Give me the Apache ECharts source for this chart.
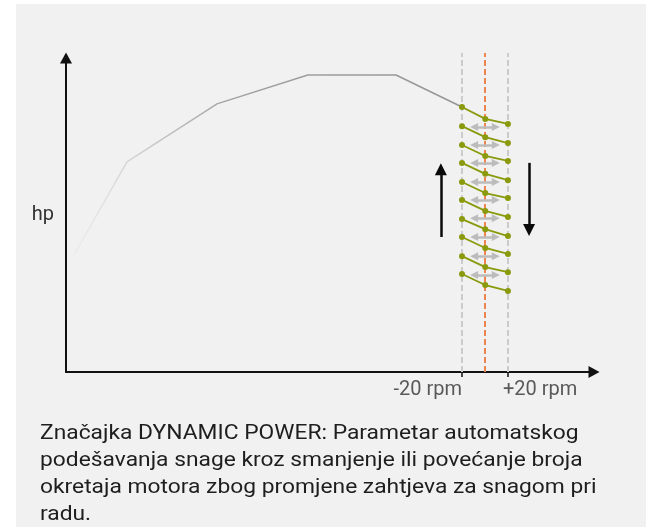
<!DOCTYPE html>
<html>
<head>
<meta charset="utf-8">
<script src="https://cdn.jsdelivr.net/npm/echarts@6/dist/echarts.min.js"></script>
<style>
  html, body { margin: 0; padding: 0; background: #ffffff; }
  #chart { width: 646px; height: 529px; }
</style>
</head>
<body>
<div id="chart"></div>
<script>
// ---- data (schematic units, x: 0..100, y: 0..100) ----
const curveX = [1.5, 11.55, 28.6, 45.8, 62.5, 75.0];
const curveY = [37.3, 66.9, 85.4, 94.6, 94.6, 84.4];

// band positions: -20 rpm, set point, +20 rpm
const bandX = [75.0, 79.4, 83.7];
const bandLabels = ['-20 rpm', '+20 rpm'];
const dashTop = 101.6;

// zig-zag segments (left, middle, right y values)
const zigLeftY  = [84.4, 78.3, 72.3, 66.6, 60.5, 54.8, 48.7, 43.0, 36.9, 31.2];
const zigMidY   = [80.6, 74.8, 68.8, 63.1, 57.0, 51.3, 45.5, 39.5, 33.4, 27.7];
const zigRightY = [79.0, 72.9, 67.2, 61.1, 55.4, 49.4, 43.3, 37.6, 31.8, 25.8];

// grey double arrows
const shiftArrowX = [77.3, 81.4];
const shiftArrowY = [78.0, 72.3, 66.6, 60.5, 54.8, 49.0, 43.0, 36.9, 30.9];

// black trend arrows
const upArrowX = 71.0;
const upArrowY = [43.0, 64.6];
const downArrowX = 87.7;
const downArrowY = [66.6, 45.2];

const yName = 'hp';
const caption = 'Značajka DYNAMIC POWER: Parametar automatskog\npodešavanja snage kroz smanjenje ili povećanje broja\nokretaja motora zbog promjene zahtjeva za snagom pri\nradu.';

// ---- chart ----
const GREEN = '#8a9a0c';
const FONT = 'Roboto';

const chart = echarts.init(document.getElementById('chart'), null, { renderer: 'canvas' });

const series = [];

// dashed vertical band lines
bandX.forEach((x, i) => {
  series.push({
    type: 'lines',
    coordinateSystem: 'cartesian2d',
    clip: false,
    silent: true,
    z: 1,
    lineStyle: {
      color: i === 1 ? '#ee8450' : '#cbcbcb',
      width: 2,
      type: [6, 3],
      opacity: 1
    },
    data: [{ coords: [[x, 0], [x, dashTop]] }]
  });
});

// power curve
series.push({
  type: 'line',
  data: curveX.map((x, i) => [x, curveY[i]]),
  showSymbol: false,
  symbol: 'none',
  z: 2,
  lineStyle: {
    width: 1.5,
    color: {
      type: 'linear', x: 0, y: 0, x2: 1, y2: 0,
      colorStops: [
        { offset: 0, color: 'rgba(225,225,225,0.3)' },
        { offset: 0.15, color: '#d4d4d4' },
        { offset: 0.4, color: '#a2a2a2' },
        { offset: 1, color: '#959595' }
      ]
    }
  }
});

// grey double arrows
series.push({
  type: 'lines',
  coordinateSystem: 'cartesian2d',
  clip: false,
  z: 3,
  symbol: ['triangle', 'triangle'],
  symbolSize: 8,
  lineStyle: { color: '#bcbcbc', width: 2.5, opacity: 1 },
  data: shiftArrowY.map(y => ({ coords: [[shiftArrowX[0], y], [shiftArrowX[1], y]] }))
});

// green zig-zags
zigLeftY.forEach((ly, i) => {
  series.push({
    type: 'line',
    z: 4,
    data: [[bandX[0], ly], [bandX[1], zigMidY[i]], [bandX[2], zigRightY[i]]],
    symbol: 'circle',
    symbolSize: 6,
    showSymbol: true,
    itemStyle: { color: GREEN, borderWidth: 0 },
    lineStyle: { color: GREEN, width: 1.8 }
  });
});

// black trend arrows
series.push({
  type: 'lines',
  coordinateSystem: 'cartesian2d',
  clip: false,
  z: 3,
  symbol: ['none', 'triangle'],
  symbolSize: 12,
  lineStyle: { color: '#0a0a0a', width: 2.5, opacity: 1 },
  data: [
    { coords: [[upArrowX, upArrowY[0]], [upArrowX, upArrowY[1]]] },
    { coords: [[downArrowX, downArrowY[0]], [downArrowX, downArrowY[1]]] }
  ]
});

// rpm labels
series.push({
  type: 'scatter',
  symbolSize: 0,
  z: 5,
  data: [
    { value: [bandX[0], 0], label: { align: 'right', offset: [0, 0] } },
    { value: [bandX[2], 0], label: { align: 'left', offset: [-5, 0] } }
  ],
  label: {
    show: true,
    position: 'bottom',
    distance: 8,
    fontFamily: FONT,
    fontSize: 20,
    color: '#333333',
    formatter: p => bandLabels[p.dataIndex]
  }
});

chart.setOption({
  animation: false,
  backgroundColor: '#ffffff',
  textStyle: { fontFamily: FONT },
  graphic: [{
    type: 'rect',
    z: -10,
    silent: true,
    shape: { x: 16, y: 4, width: 630, height: 523 },
    style: { fill: '#f0f1f0' }
  }, {
    type: 'text',
    z: 10,
    silent: true,
    x: 40,
    y: 420,
    scaleX: 1.14,
    style: {
      text: caption,
      font: '20px Roboto',
      lineHeight: 27,
      fill: '#1e1e1e',
      textVerticalAlign: 'top'
    }
  }],
  grid: { left: 66, top: 58, right: 52, bottom: 157, containLabel: false },
  xAxis: {
    type: 'value',
    min: 0, max: 100,
    splitLine: { show: false },
    axisLabel: { show: false },
    axisLine: {
      show: true,
      onZero: false,
      symbol: ['none', 'triangle'],
      symbolSize: [12, 11],
      lineStyle: { color: '#111111', width: 2 }
    },
    axisTick: {
      show: true,
      customValues: [bandX[0], bandX[2]],
      length: 5,
      lineStyle: { color: '#111111', width: 1.5 }
    }
  },
  yAxis: {
    type: 'value',
    min: 0, max: 100,
    name: yName,
    nameLocation: 'middle',
    nameRotate: 0,
    nameGap: 12,
    nameTextStyle: { fontFamily: FONT, fontSize: 20, color: '#333333', padding: [4, 0, 0, 0] },
    splitLine: { show: false },
    axisLabel: { show: false },
    axisTick: { show: false },
    axisLine: {
      show: true,
      onZero: false,
      symbol: ['none', 'triangle'],
      symbolSize: [12, 11],
      lineStyle: { color: '#111111', width: 2 }
    }
  },
  series: series
});
</script>
</body>
</html>
